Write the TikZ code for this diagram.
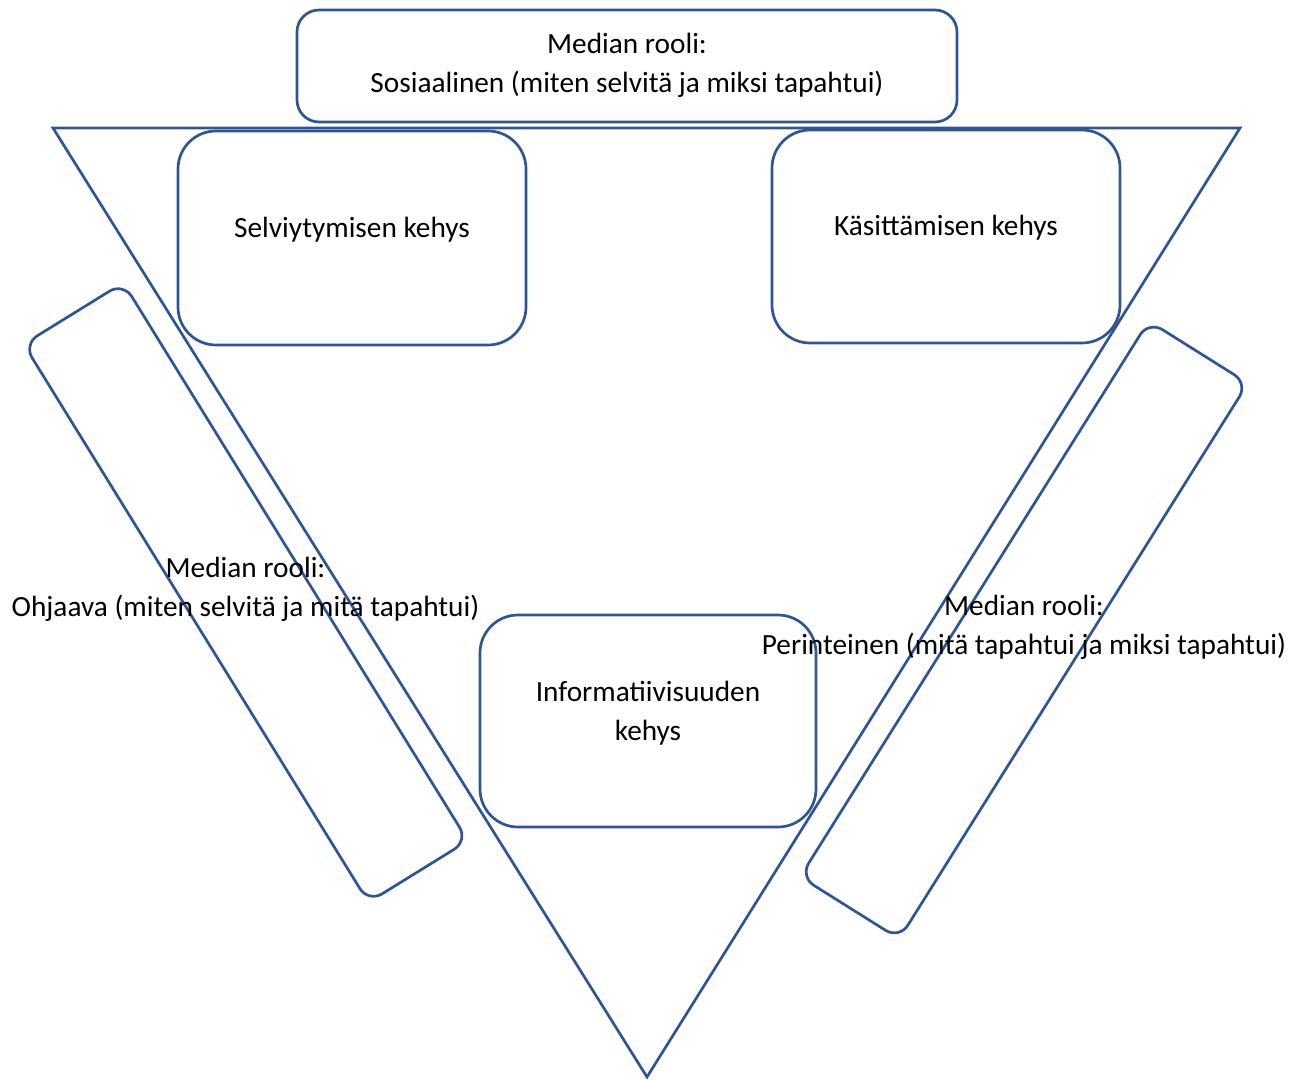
\documentclass[tikz,border=0pt]{standalone}
\usepackage{fontspec}
\setmainfont{Carlito}
\definecolor{viiva}{HTML}{2F5597}
\tikzset{
  reuna/.style={draw=viiva, line width=2.7pt},
  kehys/.style={reuna, fill=white, rounded corners=38pt, align=center, inner sep=0pt, text depth=25pt},
  rooli/.style={reuna, rounded corners=16pt, minimum width=656pt, minimum height=117pt, inner sep=0pt},
  teksti/.style={align=center, inner sep=0pt}
}
\begin{document}
\begin{tikzpicture}[x=1pt, y=-1pt, font=\fontsize{29.3}{38.8}\selectfont]
  \useasboundingbox (0,0) rectangle (1305,1079);

  % kolmio
  \coordinate (vasen) at (53,128);
  \coordinate (oikea) at (1240,128);
  \coordinate (karki) at (647,1077);
  \draw[reuna, line join=miter] (vasen) -- (oikea) -- (karki) -- cycle;

  % sivujen laatikot
  \node[rooli, rotate=-58.3] (ohjaava) at (245.8, 592.5){};
  \node[rooli, rotate=57.9] (perinteinen) at (1024, 630){};

  % kehykset
  \node[kehys, rounded corners=22pt, text depth=6pt, minimum width=660pt, minimum height=112pt] (sosiaalinen) at (627, 66){Median rooli:\\Sosiaalinen (miten selvitä ja miksi tapahtui)};
  \node[kehys, text depth=22pt, minimum width=348pt, minimum height=214pt] (selviytyminen) at (352, 238){Selviytymisen kehys};
  \node[kehys, text depth=22pt, minimum width=348pt, minimum height=213pt] (kasittaminen) at (946, 236.5){Käsittämisen kehys};
  \node[kehys, text depth=21pt, minimum width=336pt, minimum height=212pt] (informatiivisuus) at (648, 721){Informatiivisuuden\\kehys};

  % roolien tekstit
  \node[teksti] (ohjaavateksti) at (245.5, 589.5){Median rooli:\\Ohjaava (miten selvitä ja mitä tapahtui)};
  \node[teksti] (perinteinenteksti) at (1024, 627){Median rooli:\\Perinteinen (mitä tapahtui ja miksi tapahtui)};
\end{tikzpicture}
\end{document}
